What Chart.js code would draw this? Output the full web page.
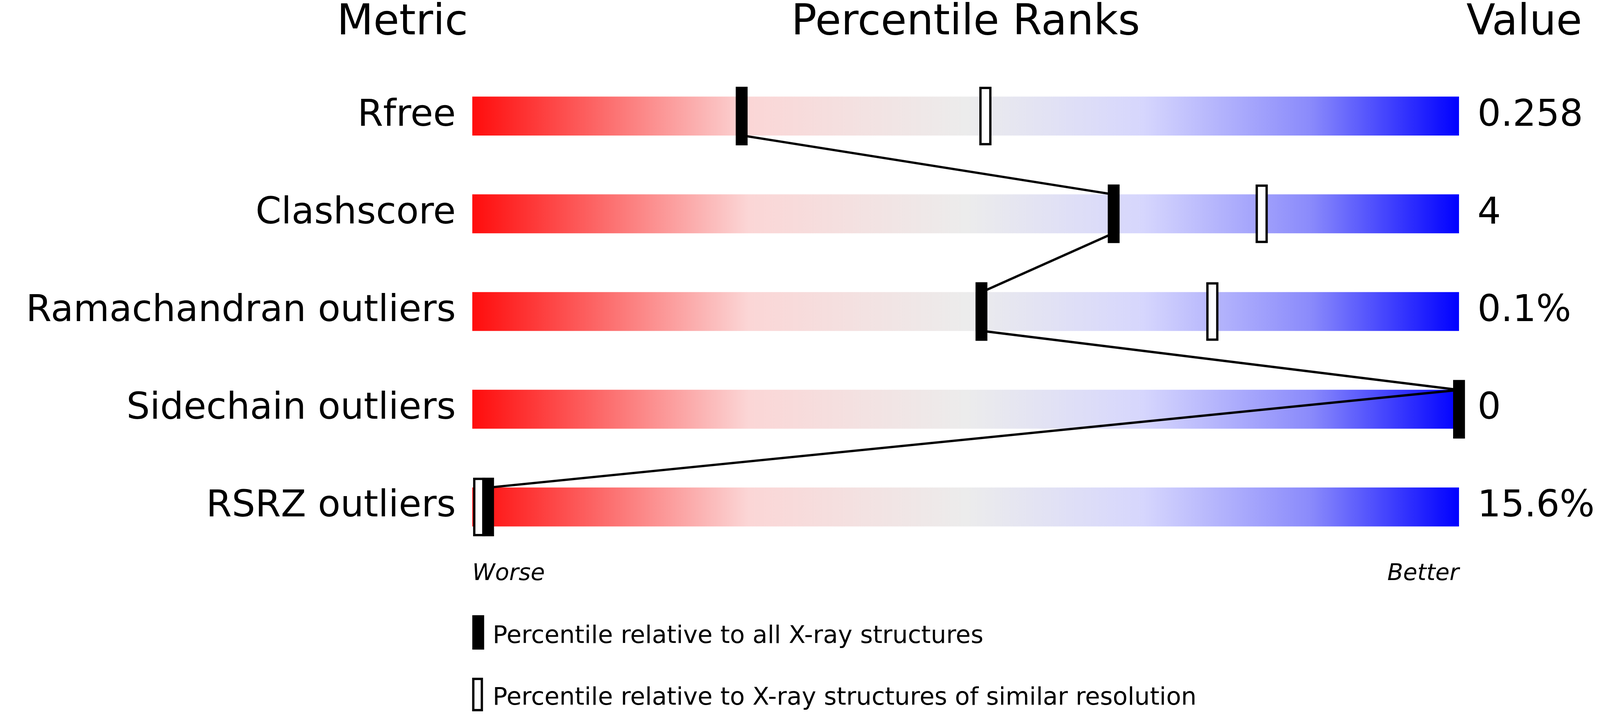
<!DOCTYPE html>
<html><head><meta charset="utf-8">
<script src="https://cdn.jsdelivr.net/npm/chart.js@4"></script>
<style>html,body{margin:0;padding:0;background:#fff;overflow:hidden}canvas{display:block}</style>
</head><body>
<canvas id="c"></canvas>
<script>
const metrics = ["Rfree","Clashscore","Ramachandran outliers","Sidechain outliers","RSRZ outliers"];
const values = ["0.258","4","0.1%","0","15.6%"];
const pctAll = [27.3, 65, 51.6, 100, 1.6];
const pctSimilar = [52, 80, 75, null, 0.7];
const legendLabels = ["Percentile relative to all X-ray structures","Percentile relative to X-ray structures of similar resolution"];

const W = window.innerWidth || 4858, H = window.innerHeight || 1833;
const sx = W/4858, sy = H/1833, s = Math.min(sx, sy);
const cv = document.getElementById('c');
cv.style.width = W+'px'; cv.style.height = H+'px';

const FONT = '"DejaVu Sans", sans-serif';
const overlay = {
  id:'overlay',
  afterDatasetsDraw(chart){
    const ctx = chart.ctx, x = chart.scales.x, y = chart.scales.y;
    const half = 49.5*sy;
    ctx.save();
    ctx.strokeStyle='#000'; ctx.lineWidth=7*s;
    ctx.beginPath();
    for(let i=0;i<pctAll.length-1;i++){
      const x1=x.getPixelForValue(pctAll[i]);
      const y1=(i===3)? y.getPixelForValue(i)-half : y.getPixelForValue(i)+half;
      const x2=x.getPixelForValue(pctAll[i+1]), y2=y.getPixelForValue(i+1)-half;
      ctx.moveTo(x1,y1); ctx.lineTo(x2,y2);
    }
    ctx.stroke();
    pctSimilar.forEach((p,i)=>{
      if(p==null) return;
      const px=x.getPixelForValue(p), py=y.getPixelForValue(i);
      ctx.fillStyle='#fff'; ctx.fillRect(px-15*sx,py-72*sy,30*sx,144*sy);
      ctx.lineWidth=7*s; ctx.strokeStyle='#000'; ctx.strokeRect(px-15*sx,py-72*sy,30*sx,144*sy);
    });
    pctAll.forEach((p,i)=>{
      const px=x.getPixelForValue(p), py=y.getPixelForValue(i);
      ctx.fillStyle='#000'; ctx.fillRect(px-18*sx,py-75*sy,36*sx,150*sy);
    });
    ctx.fillStyle='#000'; ctx.textBaseline='middle';
    ctx.font=(128*s)+'px '+FONT;
    ctx.textAlign='center';
    ctx.fillText('Metric',1222*sx,60*sy);
    ctx.fillText('Percentile Ranks',(x.left+x.right)/2,60*sy);
    ctx.fillText('Value',4628*sx,60*sy);
    ctx.font=(112*s)+'px '+FONT;
    metrics.forEach((m,i)=>{
      const py=y.getPixelForValue(i);
      ctx.textAlign='right'; ctx.fillText(m,x.left-50*sx,py);
      ctx.textAlign='left'; ctx.fillText(values[i],x.right+56*sx,py);
    });
    ctx.font='italic '+(70*s)+'px '+FONT;
    ctx.textAlign='left'; ctx.fillText('Worse',x.left,1470*sy);
    ctx.textAlign='right'; ctx.fillText('Better',x.right,1470*sy);
    ctx.font=(74*s)+'px '+FONT; ctx.textAlign='left';
    ctx.fillRect(x.left,1575*sy,36*sx,88*sy);
    ctx.fillText(legendLabels[0],x.left+62*sx,1630*sy);
    ctx.fillStyle='#fff'; ctx.fillRect(x.left+3*sx,1738*sy,26*sx,80*sy);
    ctx.lineWidth=7*s; ctx.strokeStyle='#000'; ctx.strokeRect(x.left+3*sx,1738*sy,26*sx,80*sy);
    ctx.fillStyle='#000';
    ctx.fillText(legendLabels[1],x.left+62*sx,1788*sy);
    ctx.restore();
  }
};

new Chart(cv,{
  type:'bar',
  data:{labels:metrics,datasets:[{
    data:metrics.map(()=>[0,100]),
    barThickness:99*sy,
    backgroundColor:(c)=>{
      const a=c.chart.chartArea; if(!a) return '#ccc';
      const g=c.chart.ctx.createLinearGradient(a.left,0,a.right,0);
      g.addColorStop(0,'#ff0c0c');g.addColorStop(0.14,'#fc7070');
      g.addColorStop(0.28,'#fbd6d6');g.addColorStop(0.5,'#ececec');
      g.addColorStop(0.68,'#d6d6fd');g.addColorStop(0.85,'#8a8afb');
      g.addColorStop(1,'#0000ff');return g;
    }
  }]},
  options:{
    indexAxis:'y',responsive:false,maintainAspectRatio:false,animation:false,
    layout:{padding:{left:1434*sx,right:428*sx,top:172*sy,bottom:410*sy}},
    plugins:{legend:{display:false},tooltip:{enabled:false}},
    scales:{
      x:{type:'linear',min:0,max:100,display:false},
      y:{type:'category',display:false,offset:true}
    }
  },
  plugins:[overlay]
});
</script>
</body></html>
